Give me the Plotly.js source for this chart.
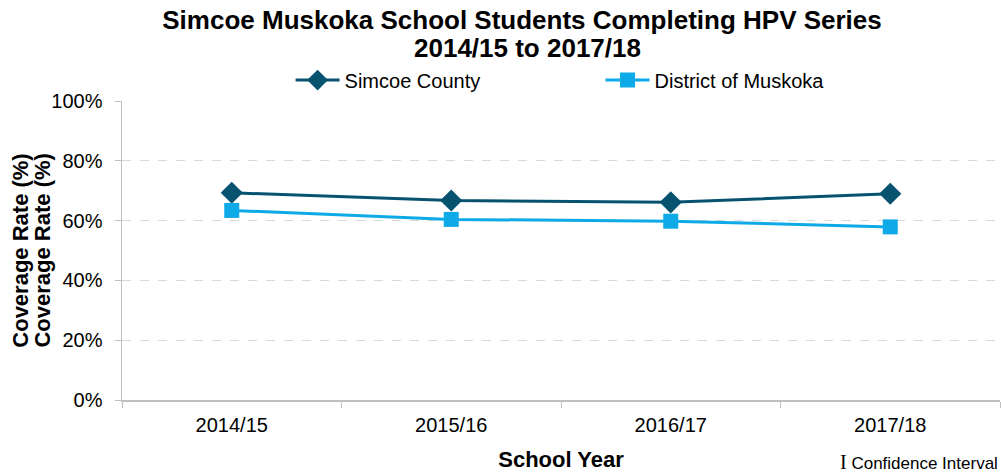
<!DOCTYPE html>
<html>
<head>
<meta charset="utf-8">
<script src="https://cdn.plot.ly/plotly-3.0.1.min.js"></script>
<style>html,body{margin:0;padding:0;background:#fff;}#chart{width:1001px;height:472px;}</style>
</head>
<body>
<div id="chart"></div>
<script>
const schoolYears = ["2014/15", "2015/16", "2016/17", "2017/18"];
const simcoeCounty = [69.3, 66.7, 66.1, 69.0];
const districtMuskoka = [63.4, 60.4, 59.8, 57.9];
const yTicks = [0, 20, 40, 60, 80, 100];
const yTickLabels = ["0%", "20%", "40%", "60%", "80%", "100%"];

const font = "Liberation Sans, Arial, sans-serif";

const traces = [
  {
    x: schoolYears, y: simcoeCounty, name: "Simcoe County", legend: "legend",
    type: "scatter", mode: "lines+markers",
    line: {color: "#07536f", width: 3},
    marker: {symbol: "diamond", size: 17, color: "#07536f"}
  },
  {
    x: schoolYears, y: districtMuskoka, name: "District of Muskoka", legend: "legend2",
    type: "scatter", mode: "lines+markers",
    line: {color: "#0eaae8", width: 3},
    marker: {symbol: "square", size: 15, color: "#0eaae8"}
  }
];

const legendBase = {
  orientation: "h", xanchor: "left", y: 1.07, yanchor: "middle",
  itemwidth: 44,
  font: {family: font, size: 20, color: "#000"},
  bgcolor: "rgba(0,0,0,0)"
};

const layout = {
  width: 1001, height: 472,
  margin: {l: 122, r: 1, t: 101, b: 72},
  paper_bgcolor: "#fff", plot_bgcolor: "#fff",
  font: {family: font, color: "#000", size: 20},
  title: {
    text: "<b>Simcoe Muskoka School Students Completing HPV Series</b>",
    font: {family: font, size: 26, color: "#000"},
    x: 0.5215, xanchor: "center", yref: "container", y: 0.957, yanchor: "middle"
  },
  showlegend: true,
  legend: Object.assign({}, legendBase, {x: 0.192}),
  legend2: Object.assign({}, legendBase, {x: 0.545}),
  xaxis: {
    type: "category", range: [-0.5, 3.5],
    tickson: "boundaries", ticks: "outside", ticklen: 6, tickcolor: "#bfbfbf",
    ticklabelstandoff: 6,
    showline: true, linecolor: "#bfbfbf", linewidth: 1.5,
    showgrid: false, zeroline: false,
    tickfont: {family: font, size: 20, color: "#000"},
    title: {text: "<b>School Year</b>", font: {family: font, size: 22, color: "#000"}, standoff: 18}
  },
  yaxis: {
    range: [0, 100], tickvals: yTicks, ticktext: yTickLabels,
    ticks: "outside", ticklen: 6, tickcolor: "#bfbfbf",
    ticklabelstandoff: 8,
    showline: true, linecolor: "#bfbfbf", linewidth: 1.5,
    showgrid: true, gridcolor: "#d9d9d9", griddash: "dash", gridwidth: 1,
    zeroline: false,
    tickfont: {family: font, size: 20, color: "#000"},
    title: {text: "<b>Coverage Rate (%)</b>", font: {family: font, size: 22, color: "#000"}, standoff: 16}
  },
  annotations: [
    {
      xref: "paper", yref: "paper", x: 0.4613, xanchor: "center", y: 1.177, yanchor: "middle",
      showarrow: false,
      text: "<b>2014/15 to 2017/18</b>",
      font: {family: font, size: 26, color: "#000"}
    },
    {
      xref: "paper", yref: "paper", x: -0.0911, xanchor: "center", y: 0.5, yanchor: "middle",
      showarrow: false, textangle: -90,
      text: "<b>Coverage Rate (%)</b>",
      font: {family: font, size: 22, color: "#000"}
    },
    {
      xref: "paper", yref: "paper", x: 1, xanchor: "right", y: -0.207, yanchor: "middle",
      showarrow: false,
      text: "<span style='font-family:Liberation Serif, serif;font-size:20px'>I</span> Confidence Interval",
      font: {family: font, size: 17, color: "#000"}
    }
  ]
};

Plotly.newPlot("chart", traces, layout, {displayModeBar: false, staticPlot: true});
</script>
</body>
</html>
